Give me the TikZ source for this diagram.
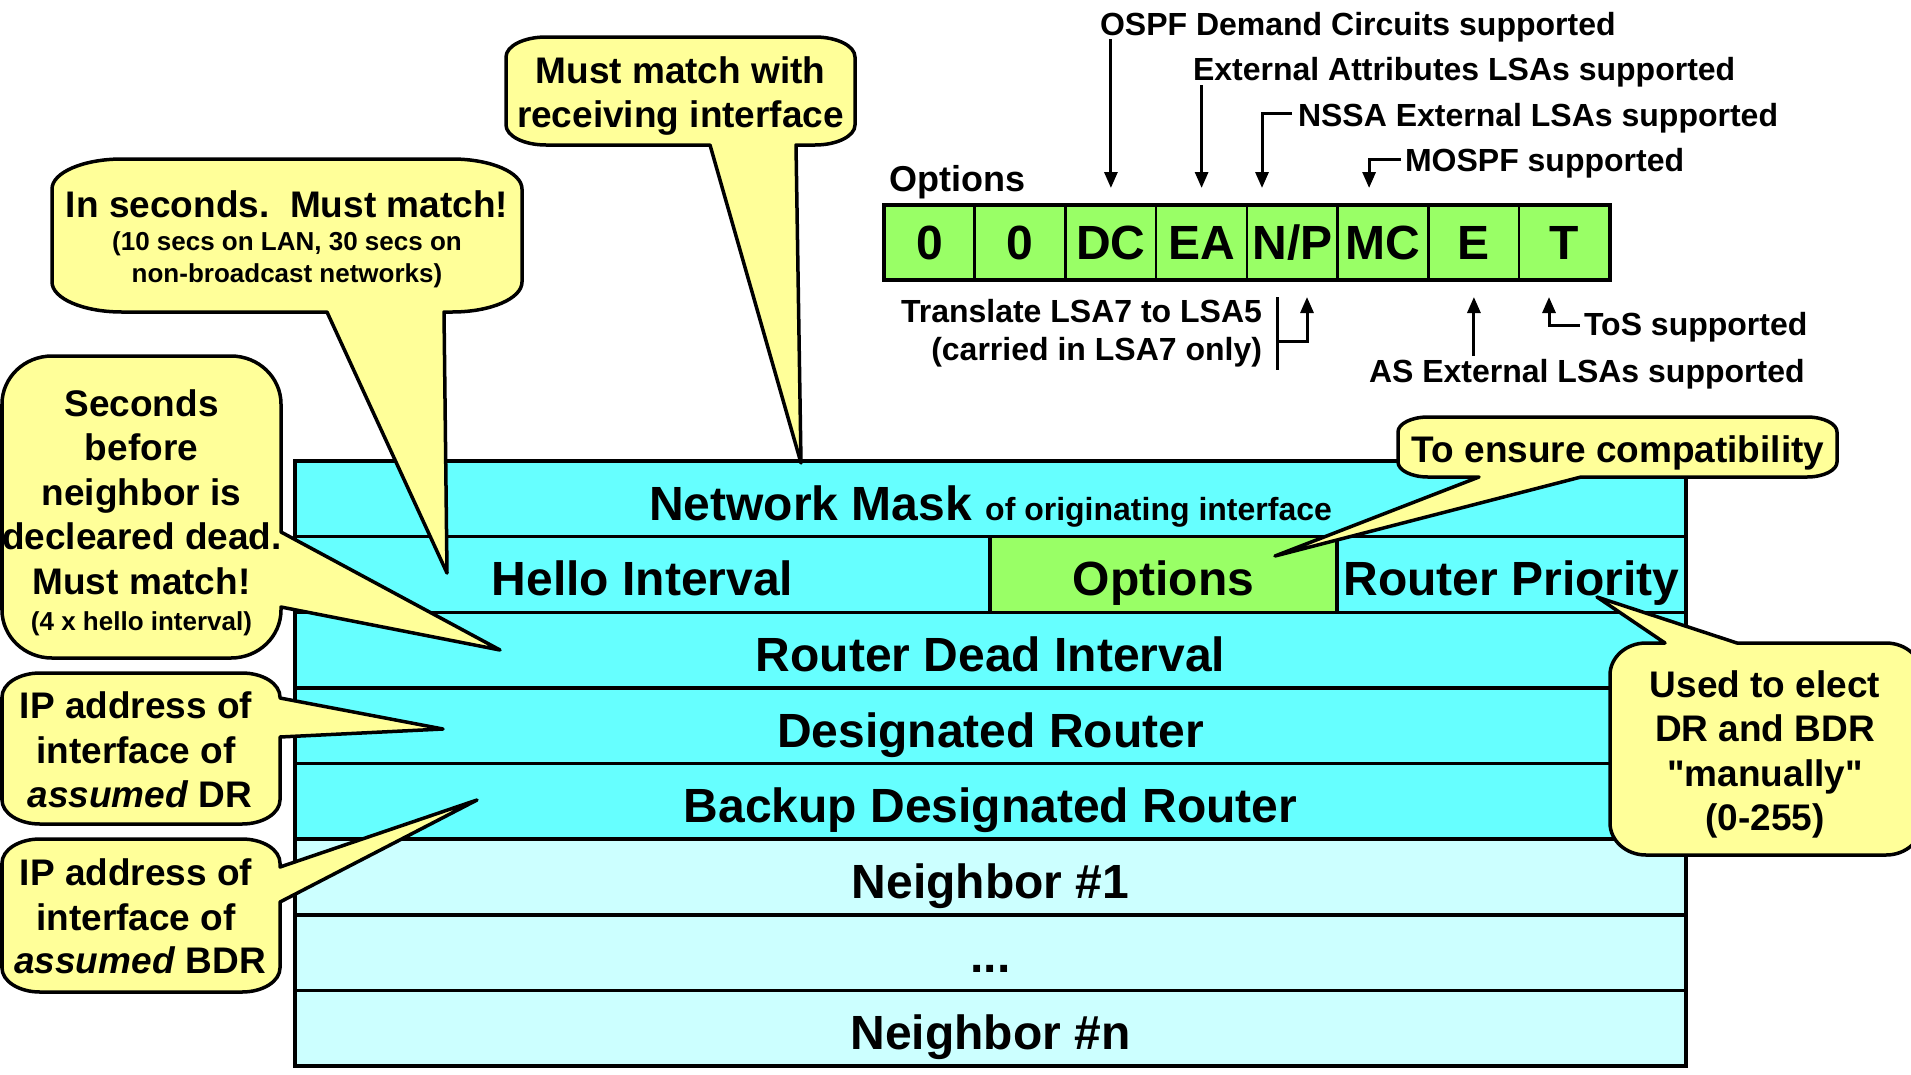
\documentclass[tikz,border=0pt]{standalone}
\usepackage{fontspec}
\setmainfont{Liberation Sans}
\newfontfamily\straightquotes{Liberation Sans}
\usetikzlibrary{arrows.meta}
\definecolor{cyanfield}{HTML}{66FFFF}
\definecolor{palefield}{HTML}{CCFFFF}
\definecolor{bitgreen}{HTML}{99FF66}
\definecolor{noteyellow}{HTML}{FFFF99}
\begin{document}
\begin{tikzpicture}[x=1pt,y=-1pt,
  every node/.style={inner sep=0pt, outer sep=0pt},
  rowbox/.style={draw=black, line width=3.5pt, fill=cyanfield},
  palebox/.style={draw=black, line width=3.5pt, fill=palefield},
  fieldtxt/.style={font=\fontsize{48}{56}\selectfont\bfseries, anchor=base},
  bit/.style={draw=black, line width=2.5pt, fill=bitgreen, minimum width=90.75pt,
    minimum height=75pt, text height=34pt, text depth=0pt,
    font=\fontsize{48}{56}\selectfont\bfseries},
  lbl/.style={font=\fontsize{32}{38}\selectfont\bfseries},
  note/.style={font=\fontsize{37}{44}\selectfont\bfseries, anchor=base},
  smallnote/.style={font=\fontsize{26}{31}\selectfont\bfseries, anchor=base},
  bubble/.style={draw=black, line width=3.5pt, fill=noteyellow, line join=round},
  arr/.style={line width=3pt, -{Triangle[length=16pt,width=13pt]}},
  barline/.style={line width=3pt},
]
\useasboundingbox (0,0) rectangle (1911,1074);

% ---------- Hello packet fields ----------
\draw[rowbox] (295,461) rectangle (1686,536.6);
\draw[rowbox] (295,536.6) rectangle (990,612.3);
\draw[rowbox, fill=bitgreen] (990,536.6) rectangle (1337,612.3);
\draw[rowbox] (1337,536.6) rectangle (1686,612.3);
\draw[rowbox] (295,612.3) rectangle (1686,687.9);
\draw[rowbox] (295,687.9) rectangle (1686,763.5);
\draw[rowbox] (295,763.5) rectangle (1686,839.1);
\draw[palebox] (295,839.1) rectangle (1686,914.8);
\draw[palebox] (295,914.8) rectangle (1686,990.4);
\draw[palebox] (295,990.4) rectangle (1686,1066);

\node[fieldtxt] (mask) at (990.5,520) {Network Mask {\fontsize{32}{38}\selectfont of originating interface}};
\node[fieldtxt] (hello) at (642.5,595.6) {Hello Interval};
\node[fieldtxt] (opt) at (1163.5,595.6) {Options};
\node[fieldtxt] (prio) at (1511.5,595.6) {Router Priority};
\node[fieldtxt] (dead) at (990.5,671.3) {Router Dead Interval};
\node[fieldtxt] (dr) at (990.5,747) {Designated Router};
\node[fieldtxt] (bdr) at (990.5,822.5) {Backup Designated Router};
\node[fieldtxt] (nb1) at (990.5,898) {Neighbor \#1};
\node[fieldtxt] (dots) at (990.5,972) {...};
\node[fieldtxt] (nbn) at (990.5,1049) {Neighbor \#n};

% ---------- Options bits ----------
\node[font=\fontsize{36}{42}\selectfont\bfseries, anchor=base west] (optLbl) at (889,191) {Options};
\node[bit] (b1) at (929.4,242.5) {0};
\node[bit] (b2) at (1020.1,242.5) {0};
\node[bit] (b3) at (1110.9,242.5) {DC};
\node[bit] (b4) at (1201.6,242.5) {EA};
\node[bit] (b5) at (1292.4,242.5) {N/P};
\node[bit] (b6) at (1383.1,242.5) {MC};
\node[bit] (b7) at (1473.9,242.5) {E};
\node[bit] (b8) at (1564.6,242.5) {T};
\draw[line width=4pt] (b1.north west) rectangle (b8.south east);

\node[lbl, anchor=base west] (dcLbl) at (1100,35) {OSPF Demand Circuits supported};
\node[lbl, anchor=base west] (eaLbl) at (1193,80) {External Attributes LSAs supported};
\node[lbl, anchor=base west] (npLbl) at (1298,126) {NSSA External LSAs supported};
\node[lbl, anchor=base west] (mcLbl) at (1405,171) {MOSPF supported};
\node[lbl, anchor=base east] (xl1) at (1262,322) {Translate LSA7 to LSA5};
\node[lbl, anchor=base east] (xl2) at (1262,360) {(carried in LSA7 only)};
\node[lbl, anchor=base west] (tosLbl) at (1584,335) {ToS supported};
\node[lbl, anchor=base west] (asLbl) at (1369,382) {AS External LSAs supported};

\coordinate (dcFrom) at (1110.9,39);
\coordinate (eaFrom) at (1201.6,85);
\coordinate (npFrom) at (1292,113);
\coordinate (mcFrom) at (1401,159);
\coordinate (barTop) at (1277,297);
\coordinate (barBot) at (1277,370);
\coordinate (npUpFrom) at (1277,341);
\coordinate (eFrom) at (1473.9,356);
\coordinate (tosFrom) at (1580,325);

\draw[arr, shorten >=17pt] (dcFrom) -- (b3.north);
\draw[arr, shorten >=17pt] (eaFrom) -- (b4.north);
\draw[arr, shorten >=17pt] (npFrom) -| ([xshift=-30.4pt]b5.north);
\draw[arr, shorten >=17pt] (mcFrom) -| ([xshift=-14pt]b6.north);
\draw[barline] (barTop) -- (barBot);
\draw[arr, shorten >=17pt] (npUpFrom) -| ([xshift=14.6pt]b5.south);
\draw[arr, shorten >=17pt] (eFrom) -- (b7.south);
\draw[arr, shorten >=17pt] (tosFrom) -| ([xshift=-15.6pt]b8.south);

% ---------- Callouts ----------
% receiving interface
\def\rx{40pt}\def\ry{20pt}
\draw[bubble] (546,37) -- (815,37)
  arc[start angle=90,end angle=0,x radius=\rx,y radius=\ry] -- (855,125)
  arc[start angle=0,end angle=-90,x radius=\rx,y radius=\ry] -- (796,145) -- (801,463) -- (710,145) -- (546,145)
  arc[start angle=-90,end angle=-180,x radius=\rx,y radius=\ry] -- (506,57)
  arc[start angle=180,end angle=90,x radius=\rx,y radius=\ry] -- cycle;
\node[note] (rcv1) at (680.5,83) {Must match with};
\node[note] (rcv2) at (680.5,127) {receiving interface};

% hello interval
\def\rx{70pt}\def\ry{30pt}
\draw[bubble] (122,159) -- (452,159)
  arc[start angle=90,end angle=0,x radius=\rx,y radius=\ry] -- (522,282)
  arc[start angle=0,end angle=-90,x radius=\rx,y radius=\ry] -- (444,312) -- (447,573) -- (327,312) -- (122,312)
  arc[start angle=-90,end angle=-180,x radius=\rx,y radius=\ry] -- (52,189)
  arc[start angle=180,end angle=90,x radius=\rx,y radius=\ry] -- cycle;
\node[note] (hel1) at (287,217) {In seconds.\ \ Must match!};
\node[smallnote] (hel2) at (287,250) {(10 secs on LAN, 30 secs on};
\node[smallnote] (hel3) at (287,282) {non-broadcast networks)};

% dead interval
\def\rx{50pt}\def\ry{48pt}
\draw[bubble] (52,356) -- (231,356)
  arc[start angle=90,end angle=0,x radius=\rx,y radius=\ry] -- (281,532) -- (500,650) -- (281,607) -- (281,610)
  arc[start angle=0,end angle=-90,x radius=\rx,y radius=\ry] -- (52,658)
  arc[start angle=-90,end angle=-180,x radius=\rx,y radius=\ry] -- (2,404)
  arc[start angle=180,end angle=90,x radius=\rx,y radius=\ry] -- cycle;
\node[note] (dd1) at (141.5,416) {Seconds};
\node[note] (dd2) at (141.5,460.5) {before};
\node[note] (dd3) at (141.5,505) {neighbor is};
\node[note] (dd4) at (142,549.5) {decleared dead.};
\node[note] (dd5) at (141.5,594) {Must match!};
\node[smallnote] (dd6) at (141.5,630) {(4 x hello interval)};

% designated router
\def\rx{38pt}\def\ry{24pt}
\draw[bubble] (40,673) -- (242,673)
  arc[start angle=90,end angle=0,x radius=\rx,y radius=\ry] -- (280,698) -- (443,729) -- (280,737) -- (280,800)
  arc[start angle=0,end angle=-90,x radius=\rx,y radius=\ry] -- (40,824)
  arc[start angle=-90,end angle=-180,x radius=\rx,y radius=\ry] -- (2,697)
  arc[start angle=180,end angle=90,x radius=\rx,y radius=\ry] -- cycle;
\node[note] (ipdr1) at (136,718) {IP address of};
\node[note] (ipdr2) at (136,763) {interface of};
\node[note] (ipdr3) at (140,807) {\textit{assumed} DR};

% backup designated router
\draw[bubble] (40,839) -- (242,839)
  arc[start angle=90,end angle=0,x radius=\rx,y radius=\ry] -- (280,867) -- (477,800) -- (280,902) -- (280,968)
  arc[start angle=0,end angle=-90,x radius=\rx,y radius=\ry] -- (40,992)
  arc[start angle=-90,end angle=-180,x radius=\rx,y radius=\ry] -- (2,863)
  arc[start angle=180,end angle=90,x radius=\rx,y radius=\ry] -- cycle;
\node[note] (ipb1) at (136,885) {IP address of};
\node[note] (ipb2) at (136,930) {interface of};
\node[note] (ipb3) at (140,973) {\textit{assumed} BDR};

% options compatibility
\def\rx{30pt}\def\ry{15pt}
\draw[bubble] (1428,417) -- (1807,417)
  arc[start angle=90,end angle=0,x radius=\rx,y radius=\ry] -- (1837,462)
  arc[start angle=0,end angle=-90,x radius=\rx,y radius=\ry] -- (1581,477) -- (1275,556) -- (1479,477) -- (1428,477)
  arc[start angle=-90,end angle=-180,x radius=\rx,y radius=\ry] -- (1398,432)
  arc[start angle=180,end angle=90,x radius=\rx,y radius=\ry] -- cycle;
\node[note] (compat) at (1618,462) {To ensure compatibility};

% router priority
\def\rx{36pt}\def\ry{32pt}
\draw[bubble] (1646,643) -- (1665,643) -- (1597,597) -- (1737,643) -- (1886,643)
  arc[start angle=90,end angle=0,x radius=\rx,y radius=\ry] -- (1922,823)
  arc[start angle=0,end angle=-90,x radius=\rx,y radius=\ry] -- (1646,855)
  arc[start angle=-90,end angle=-180,x radius=\rx,y radius=\ry] -- (1610,675)
  arc[start angle=180,end angle=90,x radius=\rx,y radius=\ry] -- cycle;
\node[note] (pri1) at (1765,697) {Used to elect};
\node[note] (pri2) at (1765,741) {DR and BDR};
\node[note] (pri3) at (1765,786) {{\straightquotes\bfseries"manually"}};
\node[note] (pri4) at (1765,830) {(0-255)};
\end{tikzpicture}
\end{document}
